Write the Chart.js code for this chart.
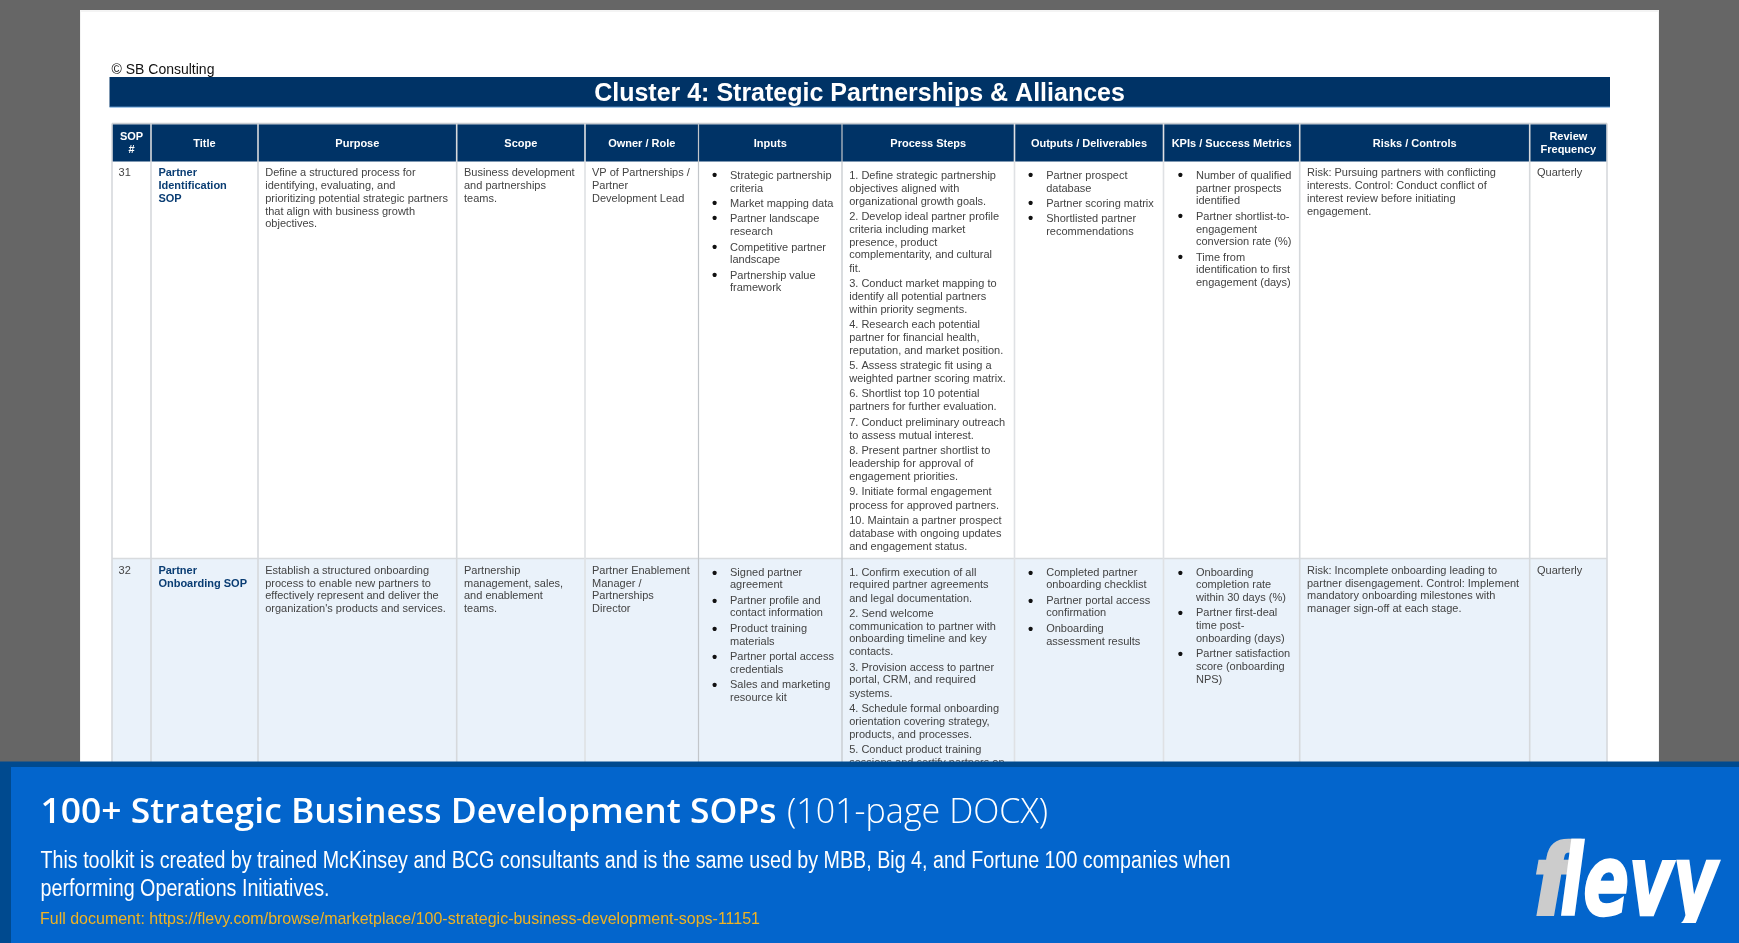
<!DOCTYPE html>
<html><head><meta charset="utf-8">
<style>html,body{margin:0;padding:0;background:#666;overflow:hidden}canvas{display:block}</style>
<script src="https://cdn.jsdelivr.net/npm/chart.js@4"></script>
</head><body><canvas id="c" width="1739" height="943"></canvas>
<script>
// ---------- content ----------
const copyrightText = '© SB Consulting';
const clusterTitle = 'Cluster 4: Strategic Partnerships & Alliances';
const columnHeaders = [['SOP','#'],['Title'],['Purpose'],['Scope'],['Owner / Role'],['Inputs'],['Process Steps'],['Outputs / Deliverables'],['KPIs / Success Metrics'],['Risks / Controls'],['Review','Frequency']];
const sopNumbers = [['31'],['32']];
const sopTitles = [['Partner','Identification','SOP'],['Partner','Onboarding SOP']];
const purposes = [
 ['Define a structured process for','identifying, evaluating, and','prioritizing potential strategic partners','that align with business growth','objectives.'],
 ['Establish a structured onboarding','process to enable new partners to','effectively represent and deliver the',"organization's products and services."]];
const scopes = [['Business development','and partnerships','teams.'],['Partnership','management, sales,','and enablement','teams.']];
const owners = [['VP of Partnerships /','Partner','Development Lead'],['Partner Enablement','Manager /','Partnerships','Director']];
const inputs = [
 [['Strategic partnership','criteria'],['Market mapping data'],['Partner landscape','research'],['Competitive partner','landscape'],['Partnership value','framework']],
 [['Signed partner','agreement'],['Partner profile and','contact information'],['Product training','materials'],['Partner portal access','credentials'],['Sales and marketing','resource kit']]];
const processSteps = [
 ['1. Define strategic partnership','objectives aligned with','organizational growth goals.','2. Develop ideal partner profile','criteria including market','presence, product','complementarity, and cultural','fit.','3. Conduct market mapping to','identify all potential partners','within priority segments.','4. Research each potential','partner for financial health,','reputation, and market position.','5. Assess strategic fit using a','weighted partner scoring matrix.','6. Shortlist top 10 potential','partners for further evaluation.','7. Conduct preliminary outreach','to assess mutual interest.','8. Present partner shortlist to','leadership for approval of','engagement priorities.','9. Initiate formal engagement','process for approved partners.','10. Maintain a partner prospect','database with ongoing updates','and engagement status.'],
 ['1. Confirm execution of all','required partner agreements','and legal documentation.','2. Send welcome','communication to partner with','onboarding timeline and key','contacts.','3. Provision access to partner','portal, CRM, and required','systems.','4. Schedule formal onboarding','orientation covering strategy,','products, and processes.','5. Conduct product training','sessions and certify partners on']];
const outputs = [
 [['Partner prospect','database'],['Partner scoring matrix'],['Shortlisted partner','recommendations']],
 [['Completed partner','onboarding checklist'],['Partner portal access','confirmation'],['Onboarding','assessment results']]];
const kpis = [
 [['Number of qualified','partner prospects','identified'],['Partner shortlist-to-','engagement','conversion rate (%)'],['Time from','identification to first','engagement (days)']],
 [['Onboarding','completion rate','within 30 days (%)'],['Partner first-deal','time post-','onboarding (days)'],['Partner satisfaction','score (onboarding','NPS)']]];
const risks = [['Risk: Pursuing partners with conflicting','interests. Control: Conduct conflict of','interest review before initiating','engagement.'],['Risk: Incomplete onboarding leading to','partner disengagement. Control: Implement','mandatory onboarding milestones with','manager sign-off at each stage.']];
const reviews = [['Quarterly'],['Quarterly']];
const bannerTitle = '100+ Strategic Business Development SOPs';
const bannerSub = '(101-page DOCX)';
const bannerDesc = ['This toolkit is created by trained McKinsey and BCG consultants and is the same used by MBB, Big 4, and Fortune 100 companies when','performing Operations Initiatives.'];
const bannerLink = 'Full document: https://flevy.com/browse/marketplace/100-strategic-business-development-sops-11151';
const logoParts = ['f','levy'];

// ---------- layout ----------
const W=1739,H=943;
const columnEdges=[112,151,258,456.7,585,698.5,842,1014.5,1163.5,1299.7,1529.7,1607];
const tableTop=123.5, headerBottom=161.5, rowRule=558.5, clipBottom=762;
const plainY=[[172.3,185.3,198.3,211.3,223.3],[570,583.4,595.4,608.4]];
const riskY=[[172.3,185.3,198.3,211.3],[570,583,595,608]];
const processY=[[175.3,188.3,201.3,216.3,229.3,242.3,254.3,268,283.3,296.3,309.3,324.3,337.3,350.3,365.3,378.3,393.3,406.3,422.3,435.3,450.3,463.3,476.3,491.3,505.3,520.3,533.3,546.3],
 [572.8,584.8,598.8,613.8,626.8,638.8,651.8,667.8,679.8,693.8,708.8,721.8,734.8,749.8,762.8]];
const inputY=[[175.3,188.3,203.3,218.3,231.3,247.3,259.3,275.3,287.3],[572.8,584.8,600.8,612.8,628.8,641.8,656.8,669.8,684.8,697.8]];
const outputY=[[175.3,188.3,203.3,218.3,231.3],[572.8,584.8,600.8,612.8,628.8,641.8]];
const kpiY=[[175.3,188.3,200.3,216.3,229.3,241.3,257.3,269.3,282.3],[572.8,584.8,597.8,612.8,625.8,638.8,653.8,666.8,679.8]];
const ruleColors=['#d6d9dc','#d6d9dc','#d6d9dc','#d6d9dc','#dfe1e4','#c2c6ca','#c2c6ca','#dfe1e4','#dfe1e4','#d6d9dc','#d6d9dc','#d6d9dc'];
const CELL='11px "Liberation Sans", Arial, sans-serif', BOLD='bold 11px "Liberation Sans", Arial, sans-serif';
const NAVY='#003366', INK='#434343';

// ---------- table structure as chart datasets ----------
const hLine=(y,color,w,fill)=>({data:[{x:columnEdges[0],y},{x:columnEdges[11],y}],borderColor:color,borderWidth:w,backgroundColor:fill||'transparent',fill:fill?'+1':false,pointRadius:0,showLine:true});
const ruleSets=columnEdges.map((x,i)=>({data:[{x,y:tableTop},{x,y:clipBottom}],borderColor:ruleColors[i],borderWidth:i===5||i===6?1.2:1.6,pointRadius:0,showLine:true}));
const datasets=[...ruleSets,
 hLine(tableTop,'#c9cdd2',1.6), hLine(rowRule,'#d8dbde',1.6),
 hLine(tableTop+0.8,NAVY,0,NAVY), hLine(headerBottom,NAVY,0),
 hLine(rowRule+0.5,'#eaf2fa',0,'#eaf2fa'), hLine(clipBottom,'#eaf2fa',0)];

// ---------- text helpers ----------
function txt(c,t,x,y,font,color,align){c.font=font;c.fillStyle=color;c.textAlign=align||'left';c.textBaseline='alphabetic';c.fillText(t,x,y);}
function fit(c,t,x,y,font,color,w){c.save();c.font=font;c.fillStyle=color;c.textAlign='left';c.textBaseline='alphabetic';const m=c.measureText(t).width;c.translate(x,y);c.scale(w/m,1);c.fillText(t,0,0);c.restore();}
const OFF=3.6;
const BULLET='bold 15px "Liberation Sans", Arial, sans-serif';
function lines(c,arr,x,ys,font,color){arr.forEach((t,i)=>txt(c,t,x,ys[i]+OFF,font,color));}
function list(c,items,bx,tx,ys){let k=0;items.forEach(it=>{txt(c,'•',bx,ys[k]+OFF+1.2,BULLET,'#111','center');it.forEach(t=>{txt(c,t,tx,ys[k]+OFF,CELL,INK);k++;});});}

const page={id:'page',
 beforeDatasetsDraw(ch){const c=ch.ctx;c.save();
  c.fillStyle='#666666';c.fillRect(0,0,W,H);
  c.fillStyle='#f4f4f4';c.fillRect(80,10,1579,760);
  c.fillStyle='#ffffff';c.fillRect(81,12,1577,758);
  c.restore();},
 afterDatasetsDraw(ch){const c=ch.ctx;c.save();
  // headline
  txt(c,copyrightText,111.5,74,'14px "Liberation Sans", Arial, sans-serif','#111');
  c.fillStyle=NAVY;c.fillRect(109.5,77,1500.5,30);
  c.fillStyle='#6aa3d8';c.fillRect(109.5,106.6,1500.5,1);
  txt(c,clusterTitle,859.5,101,'bold 25px "Liberation Sans", Arial, sans-serif','#ffffff','center');
  // header cells
  columnHeaders.forEach((h,i)=>{const cx=(columnEdges[i]+columnEdges[i+1])/2;
    const ys=h.length===2?[140,153]:[147];
    h.forEach((t,k)=>txt(c,t,cx,ys[k],BOLD,'#ffffff','center'));});
  // body rows
  [0,1].forEach(r=>{
   lines(c,sopNumbers[r],118.6,plainY[r],CELL,INK);
   lines(c,sopTitles[r],158.4,plainY[r],BOLD,'#0a3d73');
   lines(c,purposes[r],265.2,plainY[r],CELL,INK);
   lines(c,scopes[r],464,plainY[r],CELL,INK);
   lines(c,owners[r],592,plainY[r],CELL,INK);
   list(c,inputs[r],714.6,730,inputY[r]);
   lines(c,processSteps[r],849.2,processY[r],CELL,INK);
   list(c,outputs[r],1030.6,1046.2,outputY[r]);
   list(c,kpis[r],1180.5,1196,kpiY[r]);
   lines(c,risks[r],1307,riskY[r],CELL,INK);
   lines(c,reviews[r],1537,riskY[r],CELL,INK);
  });
  // banner
  c.fillStyle='#004a8f';c.fillRect(0,761.5,W,182);
  c.fillStyle='#0365cc';c.fillRect(11,767,W-11,176);
  fit(c,bannerTitle,40.5,823.3,'600 35px "Open Sans", sans-serif','#ffffff',736);
  fit(c,bannerSub,787,823.3,'300 35px "Open Sans", sans-serif','#ffffff',261);
  fit(c,bannerDesc[0],40.5,868.3,'23px "Liberation Sans", Arial, sans-serif','#ffffff',1190);
  fit(c,bannerDesc[1],40.5,895.5,'23px "Liberation Sans", Arial, sans-serif','#ffffff',289);
  fit(c,bannerLink,40,924,'17px "Liberation Sans", Arial, sans-serif','#f0b323',720);
  // logo
  c.save();c.beginPath();c.rect(1500,830,239,93);c.clip();
  c.lineJoin='miter';
  const logoFont='italic bold 98px "DejaVu Sans", sans-serif';
  [[logoParts[0],1533,38,'#cccccc'],[logoParts[1],1560,157,'#ffffff']].forEach(([t,x,w,col])=>{
    c.save();c.font=logoFont;c.textAlign='left';c.textBaseline='alphabetic';
    const m=c.measureText(t).width;c.translate(x,914.5);c.scale(w/m,1);
    c.fillStyle=col;c.strokeStyle=col;c.lineWidth=2.5;c.fillText(t,0,0);c.strokeText(t,0,0);c.restore();});
  c.restore();
  c.restore();}
};

new Chart(document.getElementById('c'),{
 type:'scatter',
 data:{datasets},
 options:{responsive:false,animation:false,devicePixelRatio:1,
  layout:{padding:0},
  plugins:{legend:{display:false},tooltip:{enabled:false},title:{display:false}},
  events:[],
  scales:{x:{type:'linear',display:false,min:0,max:W},y:{type:'linear',display:false,min:0,max:H,reverse:true}}},
 plugins:[page]});
</script></body></html>
